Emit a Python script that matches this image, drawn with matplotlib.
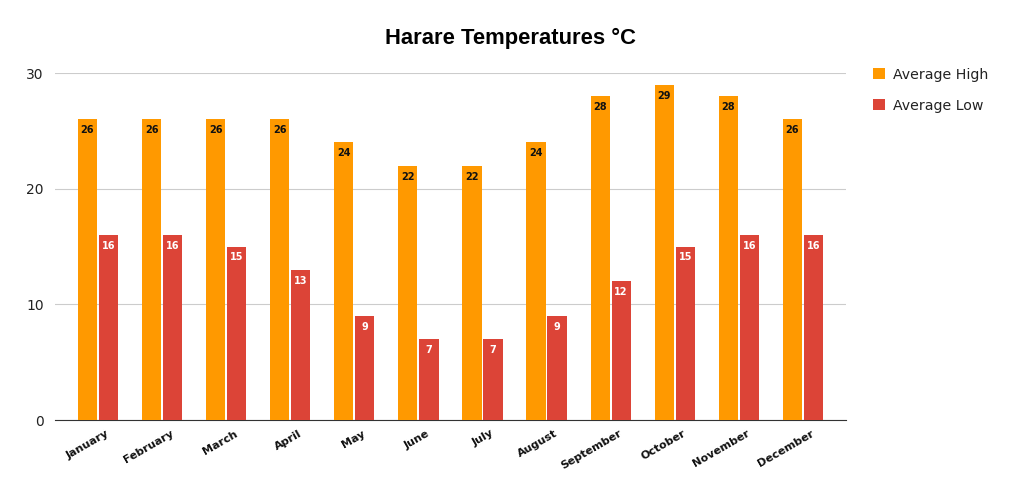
import numpy as np
import matplotlib.pyplot as plt
import matplotlib.transforms as mtransforms

months = ['January', 'February', 'March', 'April', 'May', 'June', 'July',
          'August', 'September', 'October', 'November', 'December']
avg_high = [26, 26, 26, 26, 24, 22, 22, 24, 28, 29, 28, 26]
avg_low = [16, 16, 15, 13, 9, 7, 7, 9, 12, 15, 16, 16]

c_high = '#FF9900'
c_low = '#DC4437'

fig = plt.figure(figsize=(10.13, 4.91), dpi=100)
ax = fig.add_axes([0.0543, 0.1446, 0.7807, 0.7067])

x = np.arange(len(months))
w = 0.30
off = 0.164
b1 = ax.bar(x - off, avg_high, w, color=c_high, label='Average High', zorder=3)
b2 = ax.bar(x + off, avg_low, w, color=c_low, label='Average Low', zorder=3)

for rect, v in zip(b1, avg_high):
    ax.annotate(str(v), (rect.get_x() + rect.get_width() / 2, v), xytext=(0, -11.5),
                textcoords='offset points', ha='center', va='bottom',
                fontsize=7, fontweight='bold', color='#111111', zorder=4)
for rect, v in zip(b2, avg_low):
    ax.annotate(str(v), (rect.get_x() + rect.get_width() / 2, v), xytext=(0, -11.5),
                textcoords='offset points', ha='center', va='bottom',
                fontsize=7, fontweight='bold', color='white', zorder=4)

ax.set_xlim(-0.67, 11.67)
ax.set_ylim(0, 30)
ax.set_yticks([0, 10, 20, 30])
ax.yaxis.grid(True, color='#CCCCCC', linewidth=0.8, zorder=0)
ax.set_axisbelow(True)
for s in ['top', 'right', 'left']:
    ax.spines[s].set_visible(False)
ax.spines['bottom'].set_color('#333333')
ax.tick_params(axis='y', length=0, labelsize=10, labelcolor='#222222', pad=8)
ax.tick_params(axis='x', length=0, pad=6)
ax.set_xticks(x)
ax.set_xticklabels(months, rotation=30, ha='right', rotation_mode='anchor',
                   fontsize=8, fontweight='bold', color='#111111')
shift = mtransforms.ScaledTranslation(0.08, 0, fig.dpi_scale_trans)
for lab in ax.get_xticklabels():
    lab.set_transform(lab.get_transform() + shift)

fig.text(0.5035, 0.922, 'Harare Temperatures °C', ha='center', va='center',
         fontsize=15.8, fontweight='bold', color='black', family='Liberation Sans')

leg = fig.legend(handles=[b1, b2], loc='upper left', bbox_to_anchor=(0.849, 0.888),
                 frameon=False, fontsize=10.2, handlelength=0.85, handleheight=0.85,
                 labelspacing=1.2, handletextpad=0.6)
for t in leg.get_texts():
    t.set_color('#222222')

fig.savefig('out.png', dpi=100)
